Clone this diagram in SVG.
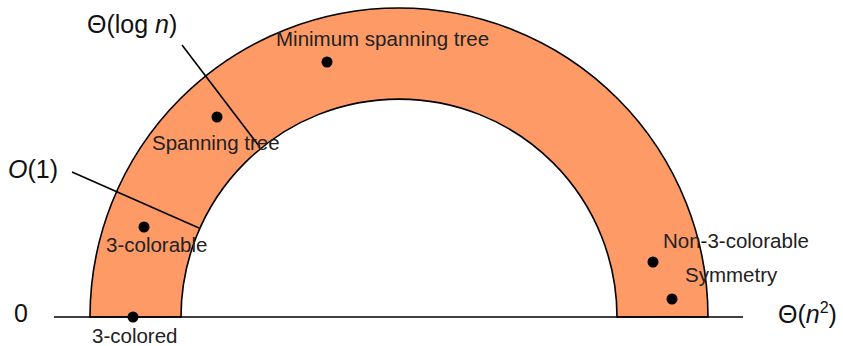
<svg xmlns="http://www.w3.org/2000/svg" width="843" height="346" viewBox="0 0 843 346">
<style>
.lbl{font-family:"Liberation Sans",Arial,sans-serif;font-size:20.5px;fill:#222}
.big{font-family:"Liberation Sans",Arial,sans-serif;font-size:25px;fill:#111}
.it{font-style:italic}
.dot{fill:#000}
.ln{stroke:#000;stroke-width:1.6;fill:none}
</style>
<rect width="843" height="346" fill="#fff"/>
<g id="band">
<path d="M 90 317 A 309 309 0 0 1 708 317 L 617 317 A 218 218 0 0 0 181 317 Z" fill="#FE9A66" stroke="#000" stroke-width="1.6"/>
</g>
<g id="connectors">
<line class="ln" x1="54" y1="317" x2="743" y2="317"/>
<line class="ln" x1="72" y1="172" x2="199" y2="228"/>
<line class="ln" x1="182" y1="45" x2="259" y2="146"/>
</g>
<g id="axis-labels">
<text class="big" x="14" y="322">0</text>
<text class="big" x="8" y="178"><tspan class="it">O</tspan>(1)</text>
<text class="big" x="87" y="33">Θ(log <tspan class="it">n</tspan>)</text>
<text class="big" x="778" y="323" font-size="26">Θ(<tspan class="it">n</tspan><tspan font-size="16" dy="-10">2</tspan><tspan dy="10">)</tspan></text>
</g>
<g id="node-mst">
<circle class="dot" cx="327" cy="62" r="5.5"/>
<text class="lbl" x="276" y="46">Minimum spanning tree</text>
</g>
<g id="node-st">
<circle class="dot" cx="217" cy="117" r="5.5"/>
<text class="lbl" x="152" y="150">Spanning tree</text>
</g>
<g id="node-3colorable">
<circle class="dot" cx="144" cy="227" r="5.5"/>
<text class="lbl" x="106" y="252">3-colorable</text>
</g>
<g id="node-3colored">
<circle class="dot" cx="133" cy="317" r="5.5"/>
<text class="lbl" x="92" y="343">3-colored</text>
</g>
<g id="node-non3">
<circle class="dot" cx="653" cy="262" r="5.5"/>
<text class="lbl" x="663" y="248">Non-3-colorable</text>
</g>
<g id="node-sym">
<circle class="dot" cx="672" cy="299" r="5.5"/>
<text class="lbl" x="685" y="282">Symmetry</text>
</g>
</svg>
